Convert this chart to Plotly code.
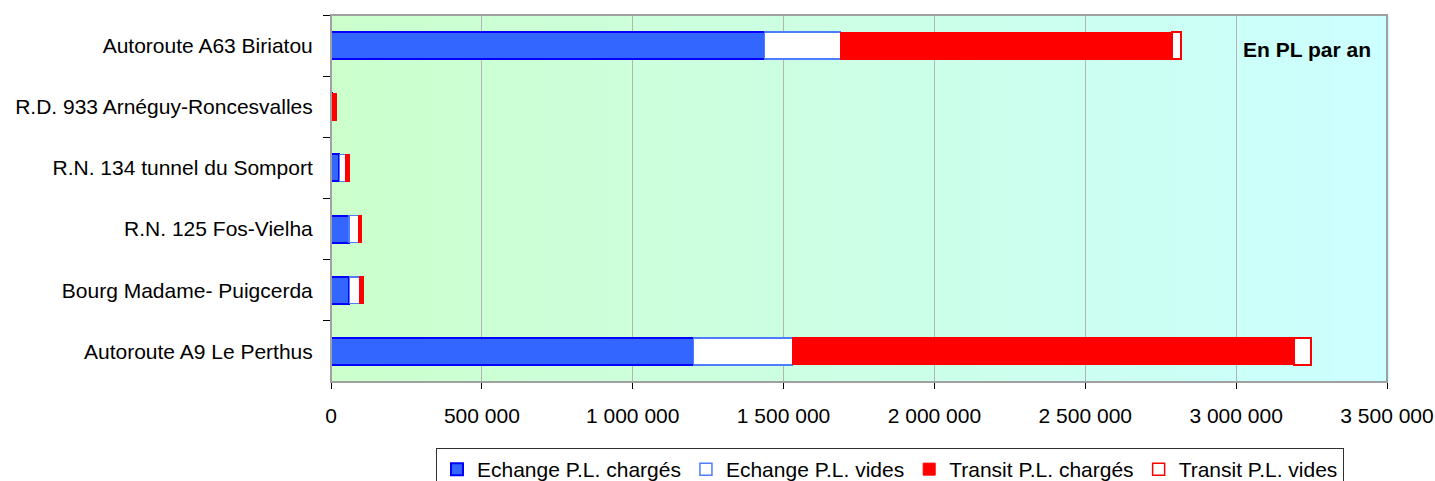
import plotly.graph_objects as go

categories = [
    "Autoroute A63 Biriatou",
    "R.D. 933 Arnéguy-Roncesvalles",
    "R.N. 134 tunnel du Somport",
    "R.N. 125 Fos-Vielha",
    "Bourg Madame- Puigcerda",
    "Autoroute A9 Le Perthus",
]
echange_charges = [1437000, 4000, 27500, 60000, 61000, 1202000]
echange_vides = [252000, 2000, 22000, 31000, 35000, 328000]
transit_charges = [1099000, 9000, 10000, 8000, 11000, 1662000]
transit_vides = [30000, 1000, 1000, 1000, 1000, 56000]

tick_vals = [0, 500000, 1000000, 1500000, 2000000, 2500000, 3000000, 3500000]
tick_text = ["0", "500 000", "1 000 000", "1 500 000", "2 000 000", "2 500 000", "3 000 000", "3 500 000"]

FONT = "Liberation Sans, Arial, sans-serif"
FS = 21

fig = go.Figure()
series = [
    ("Echange P.L. chargés", echange_charges, "#3366ff", "#0000ff", 2),
    ("Echange P.L. vides", echange_vides, "#ffffff", "#4d7cff", 1.5),
    ("Transit P.L. chargés", transit_charges, "#ff0000", "#ff0000", 1),
    ("Transit P.L. vides", transit_vides, "#ffffff", "#ff0000", 1.5),
]
for name, vals, fill, line, lw in series:
    fig.add_trace(go.Bar(
        y=categories, x=vals, name=name, orientation="h",
        marker=dict(color=fill, line=dict(color=line, width=lw)),
    ))

# gradient background strips (green -> cyan)
n = 80
shapes = []
for i in range(n):
    t = (i + 0.5) / n
    g = int(round(204 + (255 - 204) * t))
    shapes.append(dict(type="rect", xref="x domain", yref="y domain",
                       x0=i / n, x1=(i + 1) / n + 0.002, y0=0, y1=1,
                       fillcolor=f"rgb(204,255,{g})", line=dict(width=0), layer="below"))
shapes.append(dict(type="rect", xref="x domain", yref="y domain", x0=0, x1=1, y0=0, y1=1,
                   line=dict(color="#a0a0a0", width=2), fillcolor="rgba(0,0,0,0)", layer="above"))
fig.update_layout(shapes=shapes)

fig.add_annotation(text="<b>En PL par an</b>", xref="x domain", yref="y domain",
                   x=0.9867, y=0.905, xanchor="right", yanchor="middle", showarrow=False,
                   font=dict(family=FONT, size=FS, color="black"))

fig.update_layout(
    width=1435, height=481,
    barmode="stack", bargap=0.56,
    paper_bgcolor="white", plot_bgcolor="rgba(0,0,0,0)",
    margin=dict(l=331, r=48, t=15, b=99, autoexpand=False),
    font=dict(family=FONT, size=FS, color="black"),
    showlegend=True,
    legend=dict(orientation="h", x=(890 - 331) / 1056, xanchor="center",
                yref="container", y=1 - 448 / 481, yanchor="top",
                bordercolor="#303030", borderwidth=1, font=dict(size=FS),
                itemwidth=30, traceorder="normal"),
    xaxis=dict(range=[0, 3500000], tickvals=tick_vals, ticktext=tick_text,
               showgrid=True, gridcolor="#b4b4b4", gridwidth=1,
               showline=True, linecolor="black", linewidth=1, automargin=False,
               ticks="outside", ticklen=6, tickcolor="black", zeroline=False,
               ticklabelstandoff=9, tickfont=dict(size=FS)),
    yaxis=dict(autorange="reversed", showline=True, linecolor="black", linewidth=1,
               ticks="outside", ticklen=7, tickcolor="black", tickson="boundaries",
               automargin=False,
               ticklabelstandoff=13, showgrid=False, tickfont=dict(size=FS)),
)

fig.write_html("out.html", config={"displayModeBar": False},
               post_script="document.body.style.margin='0';document.body.style.overflow='hidden';")
